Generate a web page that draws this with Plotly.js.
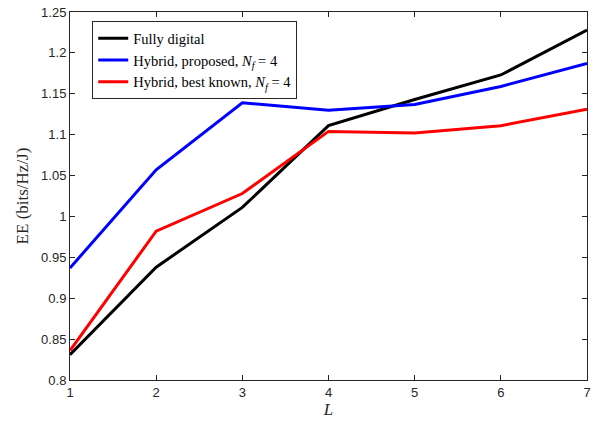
<!DOCTYPE html>
<html>
<head>
<meta charset="utf-8">
<script src="https://cdn.plot.ly/plotly-3.0.1.min.js"></script>
<style>html,body{margin:0;padding:0;background:#fff;}#chart{width:598px;height:426px;}</style>
</head>
<body>
<div id="chart"></div>
<script>
const L = [1, 2, 3, 4, 5, 6, 7];
const fullyDigital = [0.831, 0.938, 1.011, 1.111, 1.143, 1.173, 1.228];
const hybridProposed = [0.937, 1.057, 1.139, 1.130, 1.137, 1.159, 1.187];
const hybridBestKnown = [0.836, 0.982, 1.028, 1.104, 1.102, 1.111, 1.131];
const seriesNames = ['Fully digital', 'Hybrid, proposed, <i>N</i><sub><i>f</i></sub> = 4', 'Hybrid, best known, <i>N</i><sub><i>f</i></sub> = 4'];
const xTicks = [1, 2, 3, 4, 5, 6, 7];
const yTicks = [0.8, 0.85, 0.9, 0.95, 1, 1.05, 1.1, 1.15, 1.2, 1.25];
const yTickText = ['0.8', '0.85', '0.9', '0.95', '1', '1.05', '1.1', '1.15', '1.2', '1.25'];

const colors = ['#000000', '#0000ff', '#ff0000'];
const ys = [fullyDigital, hybridProposed, hybridBestKnown];
const data = ys.map((y, i) => ({
  x: L, y: y, type: 'scatter', mode: 'lines', name: seriesNames[i],
  line: {color: colors[i], width: 3}
}));

const axisCommon = {
  showgrid: false, zeroline: false, showline: true, mirror: 'ticks',
  linecolor: '#262626', linewidth: 1, ticks: 'inside', ticklen: 5, tickcolor: '#262626',
  tickfont: {family: 'Liberation Sans, Arial, sans-serif', size: 13, color: '#262626'}
};

const layout = {
  width: 598, height: 426,
  margin: {l: 70, r: 11, t: 12, b: 46},
  paper_bgcolor: '#fff', plot_bgcolor: '#fff',
  showlegend: true,
  legend: {
    x: 0.043, y: 0.975, xanchor: 'left', yanchor: 'top',
    bgcolor: '#fff', bordercolor: '#262626', borderwidth: 1,
    font: {family: 'Liberation Serif, DejaVu Serif, serif', size: 14.5, color: '#000'},
    tracegroupgap: 0, itemwidth: 30
  },
  xaxis: Object.assign({}, axisCommon, {
    range: [1, 7], tickvals: xTicks, ticktext: xTicks.map(String),
    title: {text: '<i>L</i>', font: {family: 'Liberation Serif, DejaVu Serif, serif', size: 17, color: '#262626'}, standoff: 4}
  }),
  yaxis: Object.assign({}, axisCommon, {
    range: [0.8, 1.25], tickvals: yTicks, ticktext: yTickText,
    title: {text: 'EE (bits/Hz/J)', font: {family: 'Liberation Serif, DejaVu Serif, serif', size: 17, color: '#262626'}, standoff: 8}
  })
};

Plotly.newPlot('chart', data, layout, {displayModeBar: false, staticPlot: true});
</script>
</body>
</html>
